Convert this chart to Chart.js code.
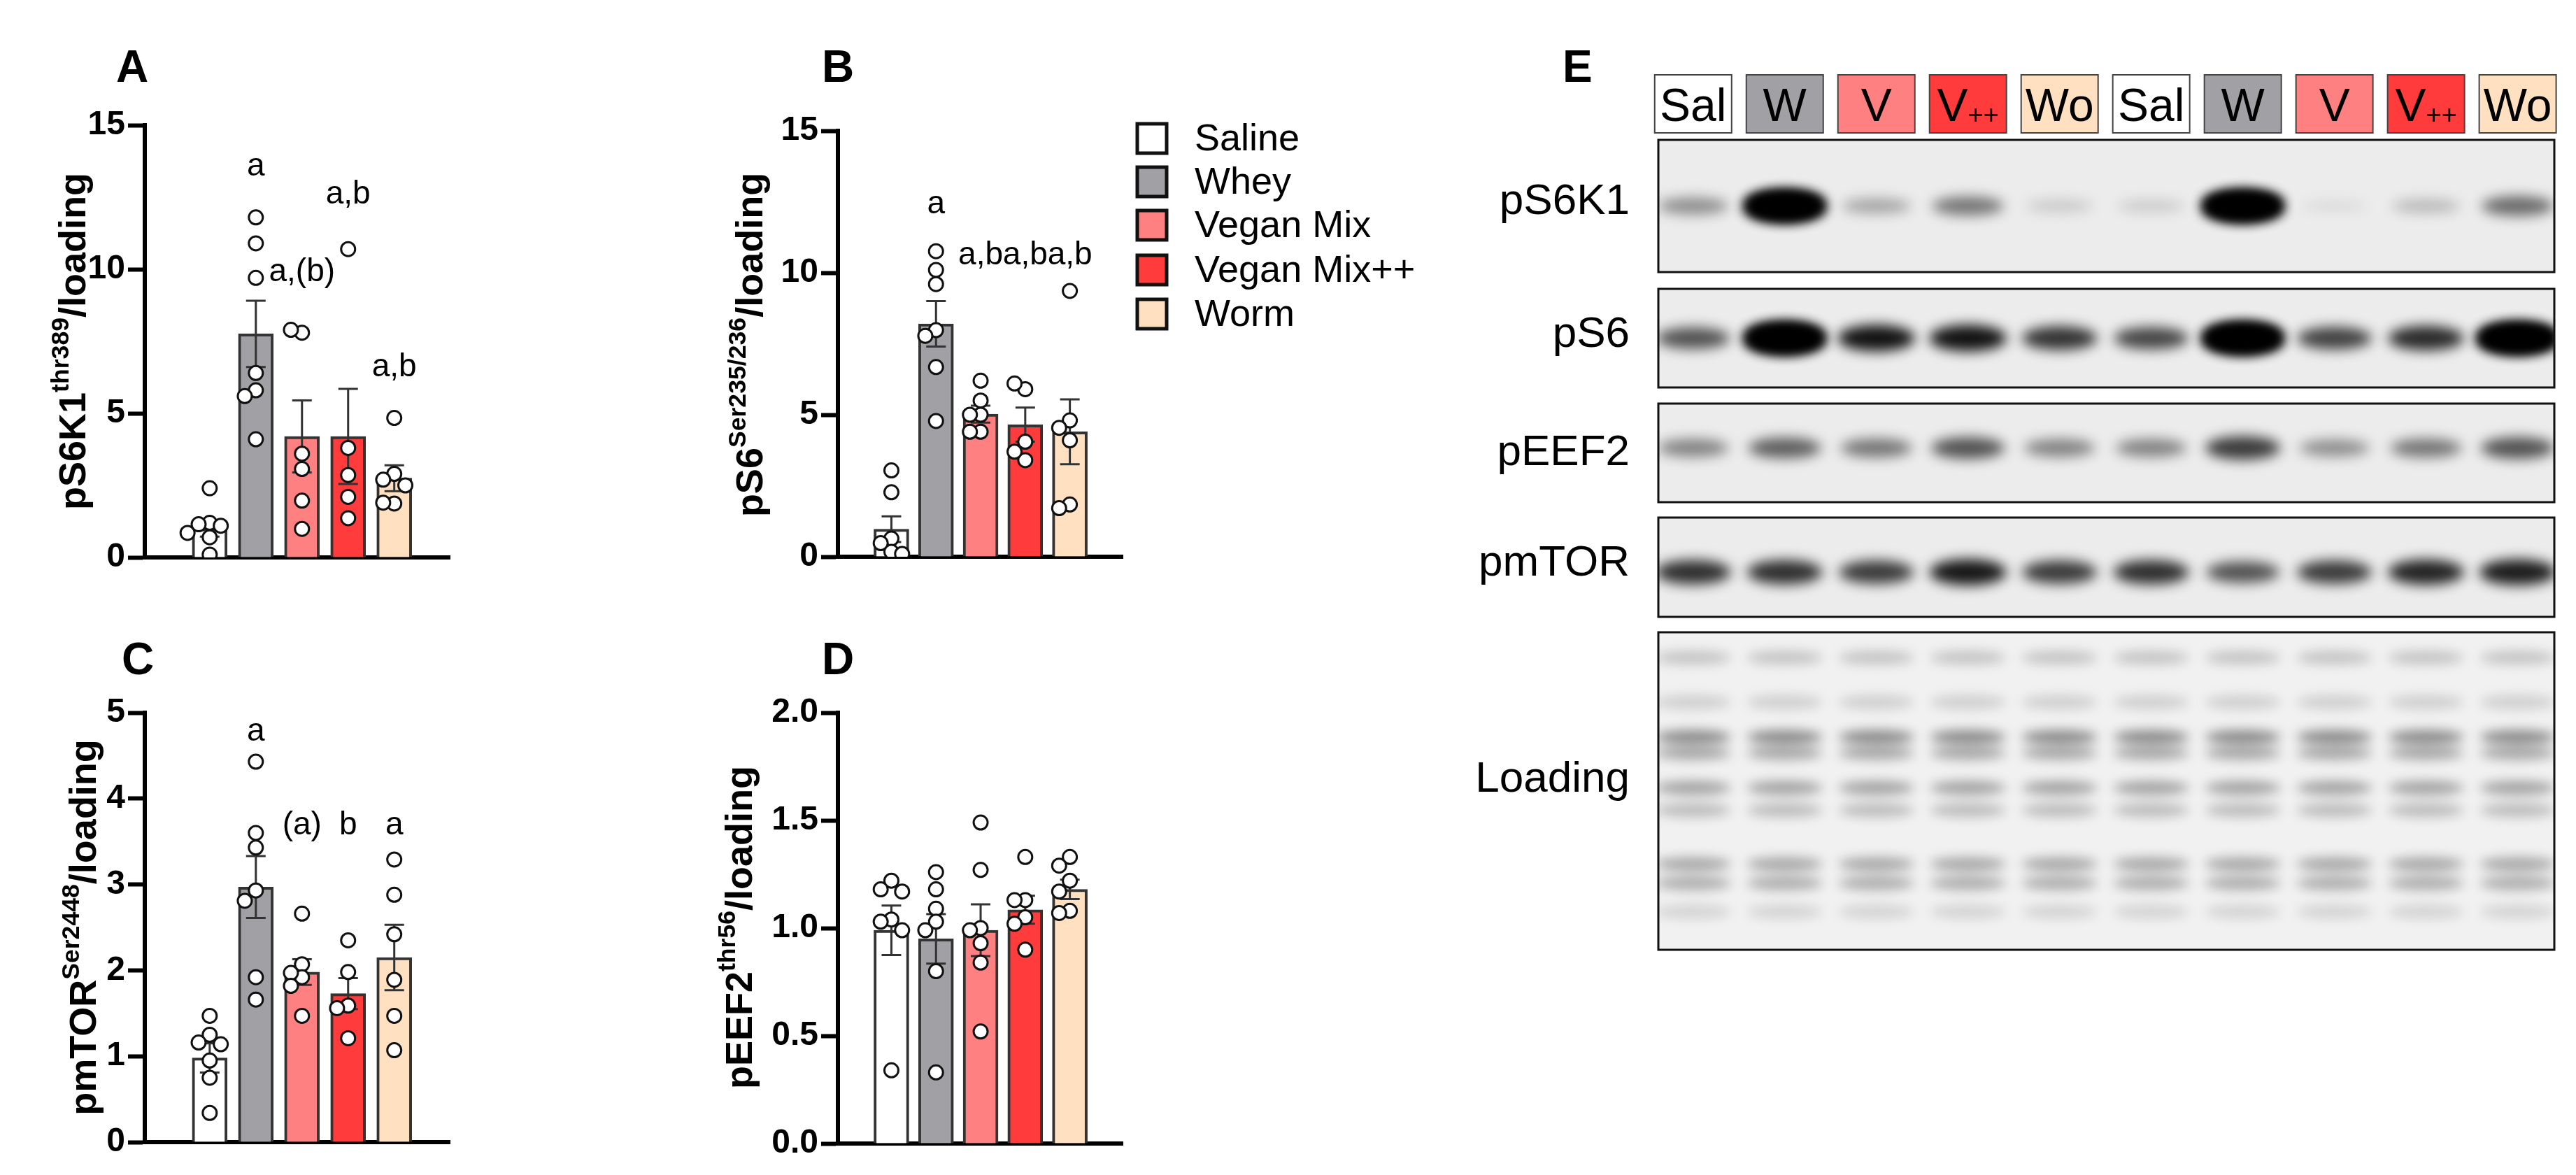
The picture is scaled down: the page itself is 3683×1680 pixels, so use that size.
<!DOCTYPE html>
<html>
<head>
<meta charset="utf-8">
<script src="https://cdn.jsdelivr.net/npm/chart.js@4.4.1/dist/chart.umd.min.js"></script>
<style>
  body { margin: 0; background: #fff; }
  #wrap { position: relative; width: 3683px; height: 1680px; }
  #wrap canvas { position: absolute; left: 0; top: 0; }
</style>
</head>
<body>
<div id="wrap">
  <canvas id="cA" width="3683" height="1680"></canvas>
  <canvas id="cB" width="3683" height="1680"></canvas>
  <canvas id="cC" width="3683" height="1680"></canvas>
  <canvas id="cD" width="3683" height="1680"></canvas>
  <canvas id="cE" width="3683" height="1680"></canvas>
</div>
<script>
const W = 3683, H = 1680;

// groups
const groups = ['Saline', 'Whey', 'Vegan Mix', 'Vegan Mix++', 'Worm'];
const groupColors = ['#ffffff', '#a0a0a5', '#ff8080', '#ff3b3b', '#ffe0c0'];

// A: pS6K1
const meanA = [1.0, 7.76, 4.2, 4.2, 2.75];
const semA = [0.28, 1.15, 1.25, 1.65, 0.45];
const pointsA = [
  [2.4, 1.2, 1.15, 1.1, 0.85, 0.7, 0.1],
  [11.8, 10.9, 9.7, 6.4, 5.8, 5.6, 4.1],
  [7.8, 7.9, 3.6, 3.07, 1.97, 0.99],
  [10.7, 3.8, 2.86, 2.1, 1.36],
  [4.84, 2.9, 2.7, 2.5, 1.87, 1.9]
];
const lettersA = ['', 'a', 'a,(b)', 'a,b', 'a,b'];
const letterYA = [0, 13.55, 9.9, 12.6, 6.6];

// B: pS6
const meanB = [0.97, 8.2, 5.02, 4.65, 4.4];
const semB = [0.45, 0.8, 0.3, 0.6, 1.14];
const pointsB = [
  [3.04, 2.27, 0.64, 0.48, 0.17, 0.1],
  [10.76, 10.1, 9.6, 7.98, 7.78, 6.68, 4.78],
  [6.2, 5.5, 5.0, 5.0, 4.4, 4.4],
  [5.9, 6.1, 4.05, 3.4, 3.7],
  [9.36, 4.8, 4.54, 4.1, 1.84, 1.71]
];
const lettersB = ['', 'a', 'a,b', 'a,b', 'a,b'];
const letterYB = [0, 12.4, 10.6, 10.6, 10.6];

// C: pmTOR
const meanC = [0.98, 2.97, 1.98, 1.73, 2.15];
const semC = [0.17, 0.36, 0.15, 0.18, 0.38];
const pointsC = [
  [1.47, 1.25, 1.16, 1.14, 0.95, 0.75, 0.34],
  [4.43, 3.6, 3.43, 2.93, 2.81, 1.92, 1.66],
  [2.66, 2.07, 1.92, 1.97, 1.82, 1.47],
  [2.35, 1.98, 1.59, 1.56, 1.21],
  [3.29, 2.88, 2.42, 1.89, 1.47, 1.07]
];
const lettersC = ['', 'a', '(a)', 'b', 'a'];
const letterYC = [0, 4.78, 3.69, 3.69, 3.69];

// D: pEEF2
const meanD = [0.99, 0.95, 0.99, 1.085, 1.18];
const semD = [0.115, 0.115, 0.12, 0.065, 0.045];
const pointsD = [
  [1.22, 1.18, 1.17, 1.04, 1.03, 0.99, 0.34],
  [1.26, 1.18, 1.09, 1.03, 0.99, 0.8, 0.33],
  [1.49, 1.27, 1.0, 0.99, 0.93, 0.84, 0.52],
  [1.33, 1.13, 1.13, 1.05, 1.02, 0.9],
  [1.33, 1.29, 1.22, 1.17, 1.08, 1.07]
];

// E: western blot lanes and band darkness (0..1)
const laneLabels = ['Sal', 'W', 'V', 'V++', 'Wo', 'Sal', 'W', 'V', 'V++', 'Wo'];
const laneGroup = [0, 1, 2, 3, 4, 0, 1, 2, 3, 4];
const blotRows = ['pS6K1', 'pS6', 'pEEF2', 'pmTOR', 'Loading'];
const bandS6K1 = [0.4, 1.0, 0.3, 0.5, 0.15, 0.14, 1.0, 0.07, 0.22, 0.55];
const bandS6 = [0.65, 1.0, 0.92, 0.92, 0.78, 0.7, 1.0, 0.72, 0.82, 1.0];
const bandEEF2 = [0.45, 0.6, 0.5, 0.65, 0.45, 0.45, 0.75, 0.4, 0.5, 0.65];
const bandMTOR = [0.8, 0.8, 0.75, 0.9, 0.75, 0.8, 0.65, 0.75, 0.85, 0.88];
const loadingBandPos = [0.08, 0.22, 0.33, 0.38, 0.49, 0.56, 0.73, 0.79, 0.88];
const loadingBandDark = [0.18, 0.14, 0.42, 0.3, 0.32, 0.22, 0.3, 0.28, 0.12];

const FONT = "'Liberation Sans Narrow', 'Liberation Sans', Arial, sans-serif";
const FONT2 = "'Liberation Sans', Arial, sans-serif";

// spread overlapping points sideways, like a scatter dot plot
function jitter(vals, unitPx, xPx) {
  const placed = [];
  const offs = [0, -1, 1, -2, 2, -3, 3];
  const step = 0.24;
  return vals.map(v => {
    let off = 0;
    for (const o of offs) {
      const ok = placed.every(p => Math.abs(p.v - v) * unitPx > 18 || Math.abs(p.o - o) * step * xPx > 18);
      if (ok) { off = o; break; }
    }
    placed.push({ v, o: off });
    return off * step;
  });
}

function drawRich(ctx, parts, cx, cy, size, weight) {
  ctx.save();
  ctx.translate(cx, cy);
  ctx.rotate(-Math.PI / 2);
  ctx.textBaseline = 'alphabetic';
  let total = 0;
  parts.forEach(p => {
    ctx.font = `${weight} ${p.sup ? size * 0.66 : size}px ${FONT2}`;
    p.w = ctx.measureText(p.t).width;
    total += p.w;
  });
  let x = -total / 2;
  parts.forEach(p => {
    ctx.font = `${weight} ${p.sup ? size * 0.66 : size}px ${FONT2}`;
    ctx.fillStyle = '#000';
    ctx.fillText(p.t, x, size * 0.36 + (p.sup ? -size * 0.45 : 0));
    x += p.w;
  });
  ctx.restore();
}

function makePanel(canvasId, cfg) {
  const a = cfg.area;
  const unitPx = (a.b - a.t) / cfg.yMax;
  const xPx = (a.r - a.l) / (cfg.xMax - cfg.xMin);
  const scatter = [];
  cfg.points.forEach((vals, g) => {
    const offs = jitter(vals, unitPx, xPx);
    vals.forEach((v, k) => scatter.push({ x: g + offs[k], y: v }));
  });

  const decor = {
    id: 'decor' + canvasId,
    afterDatasetDraw(chart, args) {
      if (args.index !== 0) return;
      const ctx = chart.ctx, xs = chart.scales.x, ys = chart.scales.y;
      ctx.save();
      ctx.strokeStyle = '#333';
      ctx.lineWidth = 3;
      cfg.mean.forEach((m, g) => {
        const x = xs.getPixelForValue(g);
        const y1 = ys.getPixelForValue(m + cfg.sem[g]);
        const y0 = ys.getPixelForValue(m - cfg.sem[g]);
        ctx.beginPath();
        ctx.moveTo(x, y0); ctx.lineTo(x, y1);
        ctx.moveTo(x - 14, y1); ctx.lineTo(x + 14, y1);
        ctx.moveTo(x - 14, y0); ctx.lineTo(x + 14, y0);
        ctx.stroke();
      });
      ctx.restore();
    },
    afterDraw(chart) {
      const ctx = chart.ctx, xs = chart.scales.x, ys = chart.scales.y;
      ctx.save();
      ctx.fillStyle = '#000';
      ctx.font = `bold 64px ${FONT2}`;
      ctx.textAlign = 'left';
      ctx.textBaseline = 'alphabetic';
      ctx.fillText(cfg.letter, cfg.letterPos[0], cfg.letterPos[1]);
      ctx.font = `46px ${FONT}`;
      ctx.textAlign = 'center';
      ctx.textBaseline = 'middle';
      (cfg.sig || []).forEach((s, g) => {
        if (s) ctx.fillText(s, xs.getPixelForValue(g), ys.getPixelForValue(cfg.sigY[g]));
      });
      ctx.restore();
      drawRich(ctx, cfg.title, cfg.titlePos[0], cfg.titlePos[1], 54, 'bold');
      if (cfg.legend) {
        ctx.save();
        const rows = [198, 260, 322, 386, 449];
        groups.forEach((gname, i) => {
          ctx.fillStyle = groupColors[i];
          ctx.fillRect(1626, rows[i] - 21, 42, 42);
          ctx.lineWidth = 5; ctx.strokeStyle = '#111';
          ctx.strokeRect(1626, rows[i] - 21, 42, 42);
          ctx.fillStyle = '#000';
          ctx.font = `54px ${FONT}`;
          ctx.textBaseline = 'middle';
          ctx.fillText(gname, 1708, rows[i] + 2);
        });
        ctx.restore();
      }
    }
  };

  return new Chart(document.getElementById(canvasId), {
    data: {
      datasets: [
        {
          type: 'bar',
          data: cfg.mean.map((m, g) => ({ x: g, y: m })),
          backgroundColor: groupColors,
          borderColor: '#333',
          borderWidth: 4,
          borderSkipped: 'start',
          barThickness: 50,
          order: 2
        },
        {
          type: 'scatter',
          data: scatter,
          pointRadius: 10,
          pointBorderWidth: 3,
          pointBackgroundColor: '#fff',
          pointBorderColor: '#111',
          order: 1
        }
      ]
    },
    options: {
      responsive: false,
      animation: false,
      devicePixelRatio: 1,
      layout: { padding: { left: a.l - 150, top: a.t, right: W - a.r, bottom: H - a.b } },
      plugins: { legend: { display: false }, tooltip: { enabled: false } },
      scales: {
        x: {
          type: 'linear', min: cfg.xMin, max: cfg.xMax,
          grid: { display: false },
          ticks: { display: false },
          border: { display: true, width: 6, color: '#000' },
          afterFit: s => { s.height = 0; }
        },
        y: {
          min: 0, max: cfg.yMax,
          grid: { drawOnChartArea: false, tickLength: 24, tickWidth: 6, tickColor: '#000' },
          border: { width: 6, color: '#000' },
          ticks: {
            stepSize: cfg.step, padding: 4, color: '#000',
            font: { family: FONT, size: 48, weight: 'bold' },
            callback: v => cfg.dec ? v.toFixed(cfg.dec) : v
          },
          afterFit: s => { s.width = 150; }
        }
      }
    },
    plugins: [decor]
  });
}

makePanel('cA', {
  area: { l: 207, t: 179, r: 643, b: 797 }, xMin: -0.935, xMax: 4.73, yMax: 15, step: 5,
  mean: meanA, sem: semA, points: pointsA, sig: lettersA, sigY: letterYA,
  letter: 'A', letterPos: [166, 117], titlePos: [103, 488],
  title: [{ t: 'pS6K1' }, { t: 'thr389', sup: true }, { t: '/loading' }]
});
makePanel('cB', {
  area: { l: 1198, t: 187, r: 1605, b: 796 }, xMin: -0.667, xMax: 4.65, yMax: 15, step: 5,
  mean: meanB, sem: semB, points: pointsB, sig: lettersB, sigY: letterYB,
  letter: 'B', letterPos: [1175, 117], titlePos: [1071, 493], legend: true,
  title: [{ t: 'pS6' }, { t: 'Ser235/236', sup: true }, { t: '/loading' }]
});
makePanel('cC', {
  area: { l: 207, t: 1019, r: 643, b: 1633 }, xMin: -0.935, xMax: 4.73, yMax: 5, step: 1,
  mean: meanC, sem: semC, points: pointsC, sig: lettersC, sigY: letterYC,
  letter: 'C', letterPos: [174, 964], titlePos: [118, 1326],
  title: [{ t: 'pmTOR' }, { t: 'Ser2448', sup: true }, { t: '/loading' }]
});
makePanel('cD', {
  area: { l: 1198, t: 1019, r: 1605, b: 1635 }, xMin: -0.667, xMax: 4.65, yMax: 2, step: 0.5, dec: 1,
  mean: meanD, sem: semD, points: pointsD,
  letter: 'D', letterPos: [1175, 964], titlePos: [1056, 1326],
  title: [{ t: 'pEEF2' }, { t: 'thr56', sup: true }, { t: '/loading' }]
});

// Panel E: blot drawn on a lane scale
const stripBox = [[200, 389], [413, 554], [577, 718], [740, 882], [904, 1358]];
const rowBands = [bandS6K1, bandS6, bandEEF2, bandMTOR];
const rowBandY = [0.5, 0.5, 0.45, 0.55];
const rowLabelY = [289, 479, 648, 806, 1115];

const blotPlugin = {
  id: 'blot',
  afterDraw(chart) {
    const ctx = chart.ctx, xs = chart.scales.x;
    const L = chart.chartArea.left, R = chart.chartArea.right;
    ctx.save();
    ctx.fillStyle = '#000';
    ctx.font = `bold 64px ${FONT2}`;
    ctx.fillText('E', 2234, 117);
    // lane labels
    laneLabels.forEach((lab, i) => {
      const xc = xs.getPixelForValue(i);
      ctx.fillStyle = groupColors[laneGroup[i]];
      ctx.fillRect(xc - 55, 107, 110, 83);
      ctx.lineWidth = 2; ctx.strokeStyle = '#444';
      ctx.strokeRect(xc - 55, 107, 110, 83);
      ctx.fillStyle = '#000';
      ctx.textBaseline = 'alphabetic';
      ctx.textAlign = 'left';
      if (lab === 'V++') {
        ctx.font = `66px ${FONT2}`;
        const w1 = ctx.measureText('V').width;
        ctx.font = `38px ${FONT2}`;
        const w2 = ctx.measureText('++').width;
        const x0 = xc - (w1 + w2) / 2;
        ctx.font = `66px ${FONT2}`;
        ctx.fillText('V', x0, 173);
        ctx.font = `38px ${FONT2}`;
        ctx.fillText('++', x0 + w1, 177);
      } else {
        ctx.font = `66px ${FONT2}`;
        ctx.textAlign = 'center';
        ctx.fillText(lab, xc, 173);
      }
    });
    // strips
    stripBox.forEach((sb, r) => {
      const [t, b] = sb;
      ctx.save();
      ctx.beginPath(); ctx.rect(L, t, R - L, b - t); ctx.clip();
      ctx.fillStyle = r === 4 ? '#f1f1f1' : '#ececec';
      ctx.fillRect(L, t, R - L, b - t);
      for (let i = 0; i < laneLabels.length; i++) {
        const xc = xs.getPixelForValue(i);
        if (r < 4) {
          const d = rowBands[r][i];
          const yc = t + (b - t) * rowBandY[r];
          ctx.filter = 'blur(9px)';
          ctx.fillStyle = `rgba(0,0,0,${Math.min(1, d)})`;
          ctx.beginPath();
          ctx.ellipse(xc, yc, 46 + d * 10, 7 + d * 13, 0, 0, Math.PI * 2);
          ctx.fill();
          if (d > 0.97) { ctx.fill(); ctx.fill(); }
        } else {
          loadingBandPos.forEach((p, k) => {
            ctx.filter = 'blur(8px)';
            ctx.fillStyle = `rgba(0,0,0,${loadingBandDark[k]})`;
            ctx.beginPath();
            ctx.ellipse(xc, t + (b - t) * p, 54, 10, 0, 0, Math.PI * 2);
            ctx.fill();
          });
        }
      }
      ctx.restore();
      ctx.lineWidth = 3; ctx.strokeStyle = '#111';
      ctx.strokeRect(L, t, R - L, b - t);
      ctx.fillStyle = '#000';
      ctx.font = `62px ${FONT2}`;
      ctx.textAlign = 'right';
      ctx.textBaseline = 'middle';
      ctx.fillText(blotRows[r], 2330, rowLabelY[r]);
    });
    ctx.restore();
  }
};

new Chart(document.getElementById('cE'), {
  type: 'scatter',
  data: { datasets: [{ data: [] }] },
  options: {
    responsive: false,
    animation: false,
    devicePixelRatio: 1,
    layout: { padding: { left: 2371, top: 107, right: W - 3652, bottom: H - 1358 } },
    plugins: { legend: { display: false }, tooltip: { enabled: false } },
    scales: {
      x: { type: 'linear', min: -0.38, max: 9.4, display: false },
      y: { min: 0, max: 1, display: false }
    }
  },
  plugins: [blotPlugin]
});
</script>
</body>
</html>
